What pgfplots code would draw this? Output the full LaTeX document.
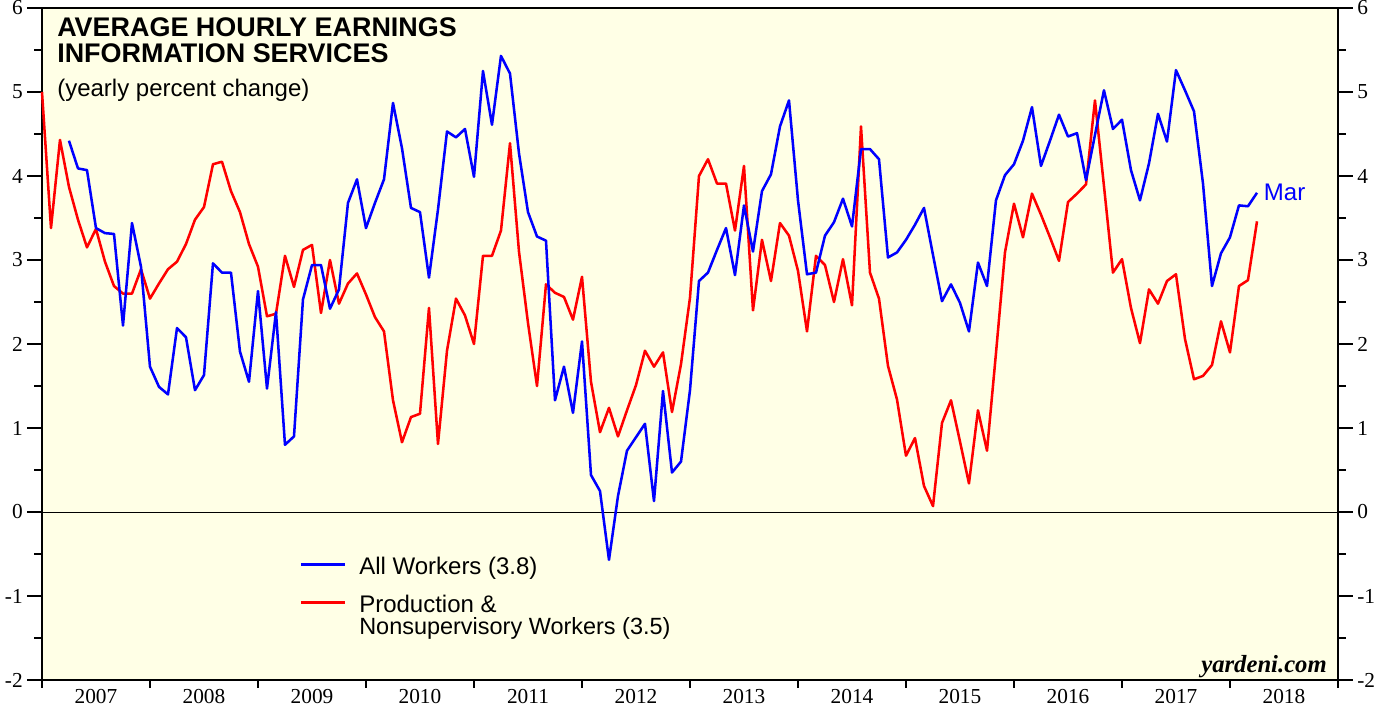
\documentclass[border=0pt]{standalone}
\usepackage{fontspec}
\setmainfont{Liberation Sans}
\newfontfamily\tnr{Liberation Serif}
\usepackage{pgfplots}
\usepackage{pgfplotstable}
\pgfplotsset{compat=1.18}
\definecolor{bgyellow}{RGB}{255,255,230}
\definecolor{myblue}{RGB}{0,0,255}
\definecolor{myred}{RGB}{255,0,0}

\pgfplotstableread{
m v
0 5.00
1 3.38
2 4.43
3 3.87
4 3.48
5 3.15
6 3.37
7 2.98
8 2.69
9 2.60
10 2.60
11 2.89
12 2.54
13 2.72
14 2.89
15 2.98
16 3.19
17 3.48
18 3.63
19 4.14
20 4.17
21 3.82
22 3.57
23 3.19
24 2.92
25 2.33
26 2.36
27 3.05
28 2.68
29 3.12
30 3.18
31 2.37
32 3.00
33 2.48
34 2.72
35 2.84
36 2.59
37 2.32
38 2.15
39 1.33
40 0.83
41 1.13
42 1.17
43 2.43
44 0.81
45 1.92
46 2.54
47 2.34
48 2.00
49 3.05
50 3.05
51 3.35
52 4.39
53 3.10
54 2.25
55 1.50
56 2.71
57 2.61
58 2.56
59 2.29
60 2.80
61 1.55
62 0.95
63 1.24
64 0.90
65 1.21
66 1.51
67 1.92
68 1.73
69 1.90
70 1.19
71 1.76
72 2.55
73 4.00
74 4.20
75 3.91
76 3.91
77 3.35
78 4.12
79 2.40
80 3.24
81 2.75
82 3.44
83 3.29
84 2.87
85 2.15
86 3.05
87 2.94
88 2.50
89 3.01
90 2.46
91 4.59
92 2.85
93 2.54
94 1.74
95 1.34
96 0.67
97 0.88
98 0.31
99 0.07
100 1.06
101 1.33
102 0.84
103 0.34
104 1.21
105 0.73
106 1.89
107 3.09
108 3.67
109 3.27
110 3.79
111 3.54
112 3.27
113 2.99
114 3.69
115 3.79
116 3.90
117 4.90
118 3.88
119 2.85
120 3.01
121 2.43
122 2.01
123 2.65
124 2.48
125 2.75
126 2.83
127 2.06
128 1.58
129 1.62
130 1.75
131 2.27
132 1.90
133 2.69
134 2.76
135 3.46
}\redtable

\pgfplotstableread{
m v
3 4.42
4 4.09
5 4.07
6 3.38
7 3.32
8 3.31
9 2.22
10 3.44
11 2.92
12 1.73
13 1.49
14 1.40
15 2.19
16 2.08
17 1.45
18 1.63
19 2.96
20 2.85
21 2.85
22 1.91
23 1.55
24 2.63
25 1.47
26 2.38
27 0.80
28 0.90
29 2.53
30 2.94
31 2.94
32 2.42
33 2.65
34 3.68
35 3.96
36 3.38
37 3.68
38 3.96
39 4.87
40 4.33
41 3.62
42 3.57
43 2.79
44 3.60
45 4.53
46 4.46
47 4.56
48 3.99
49 5.25
50 4.61
51 5.43
52 5.22
53 4.27
54 3.57
55 3.28
56 3.23
57 1.33
58 1.73
59 1.18
60 2.03
61 0.44
62 0.25
63 -0.57
64 0.19
65 0.73
66 0.89
67 1.05
68 0.13
69 1.44
70 0.47
71 0.60
72 1.45
73 2.75
74 2.85
75 3.12
76 3.38
77 2.82
78 3.65
79 3.10
80 3.82
81 4.02
82 4.59
83 4.90
84 3.71
85 2.83
86 2.85
87 3.29
88 3.45
89 3.73
90 3.40
91 4.32
92 4.32
93 4.20
94 3.03
95 3.09
96 3.24
97 3.42
98 3.62
99 3.06
100 2.51
101 2.71
102 2.49
103 2.15
104 2.97
105 2.69
106 3.71
107 4.01
108 4.14
109 4.42
110 4.82
111 4.12
112 4.42
113 4.73
114 4.47
115 4.51
116 3.95
117 4.49
118 5.02
119 4.56
120 4.67
121 4.07
122 3.71
123 4.15
124 4.74
125 4.41
126 5.26
127 5.02
128 4.77
129 3.91
130 2.69
131 3.08
132 3.27
133 3.65
134 3.64
135 3.80
}\bluetable

\begin{document}
\begin{tikzpicture}
\useasboundingbox (-31.5pt,-25.5pt) rectangle (1002.75pt,510pt);
\pgfplotsset{
  common/.style={
    at={(0,0)}, anchor=south west,
    scale only axis, width=972pt, height=504pt,
    xmin=2007, xmax=2019, ymin=-2, ymax=6,
    ytick={-2,...,6}, minor ytick={-1.5,-0.5,...,5.5},
    tick align=outside,
    major tick length=11pt, minor tick length=6pt,
    every tick/.style={black, line width=1.5pt},
    axis line style={line width=1.6pt},
    /pgf/number format/assume math mode=true,
    ticklabel style={font=\tnr\fontsize{16}{16}\selectfont},
  }
}
\begin{axis}[common,
  axis background/.style={fill=bgyellow},
  ytick pos=left,
  xtick pos=bottom,
  xtick={2007.5,2008.5,...,2018.5},
  xticklabels={2007,2008,2009,2010,2011,2012,2013,2014,2015,2016,2017,2018},
  xtick style={draw=none},
  xticklabel style={yshift=7.5pt},
  extra x ticks={2007,2008,...,2019},
  extra x tick labels={},
  extra x tick style={xtick style={draw=black, line width=1.5pt}, major tick length=6pt},
  clip=false,
]
\draw[black, line width=0.7pt] (axis cs:2007,0) -- (axis cs:2019,0);
\addplot[myred, line width=1.9pt, line join=round] table[x expr=2007+\thisrow{m}/12, y=v] {\redtable};
\addplot[myblue, line width=1.9pt, line join=round] table[x expr=2007+\thisrow{m}/12, y=v] {\bluetable};
\node[anchor=base west, font=\bfseries\fontsize{20.2}{21}\selectfont, inner sep=0pt] at (axis description cs:0.0116,0.9583) {AVERAGE HOURLY EARNINGS};
\node[anchor=base west, font=\bfseries\fontsize{20.2}{21}\selectfont, inner sep=0pt] at (axis description cs:0.0116,0.9182) {INFORMATION SERVICES};
\node[anchor=base west, font=\fontsize{18}{18}\selectfont, inner sep=0pt] at (axis description cs:0.0116,0.869) {(yearly percent change)};
\draw[myblue, line width=1.9pt] (axis description cs:0.1998,0.1722) -- (axis description cs:0.2338,0.1722);
\draw[myred, line width=1.9pt] (axis description cs:0.1998,0.1150) -- (axis description cs:0.2338,0.1150);
\node[anchor=base west, font=\fontsize{18}{18}\selectfont, inner sep=0pt] at (axis description cs:0.2446,0.1573) {All Workers (3.8)};
\node[anchor=base west, font=\fontsize{18}{18}\selectfont, inner sep=0pt] at (axis description cs:0.2446,0.1007) {Production \&};
\node[anchor=base west, font=\fontsize{17.6}{18}\selectfont, inner sep=0pt] at (axis description cs:0.2446,0.0680) {Nonsupervisory Workers (3.5)};
\node[anchor=west, font=\fontsize{18}{18}\selectfont, text=myblue, inner sep=0pt] at (axis cs:2018.25,3.80) [xshift=5pt] {Mar};
\node[anchor=base east, font=\tnr\bfseries\itshape\fontsize{18.5}{18}\selectfont, inner sep=0pt] at (axis description cs:0.9915,0.0119) {yardeni.com};
\end{axis}
\begin{axis}[common,
  axis x line=none,
  axis y line*=right,
  ytick pos=right,
  yticklabel pos=right,
]
\end{axis}
\end{tikzpicture}
\end{document}
